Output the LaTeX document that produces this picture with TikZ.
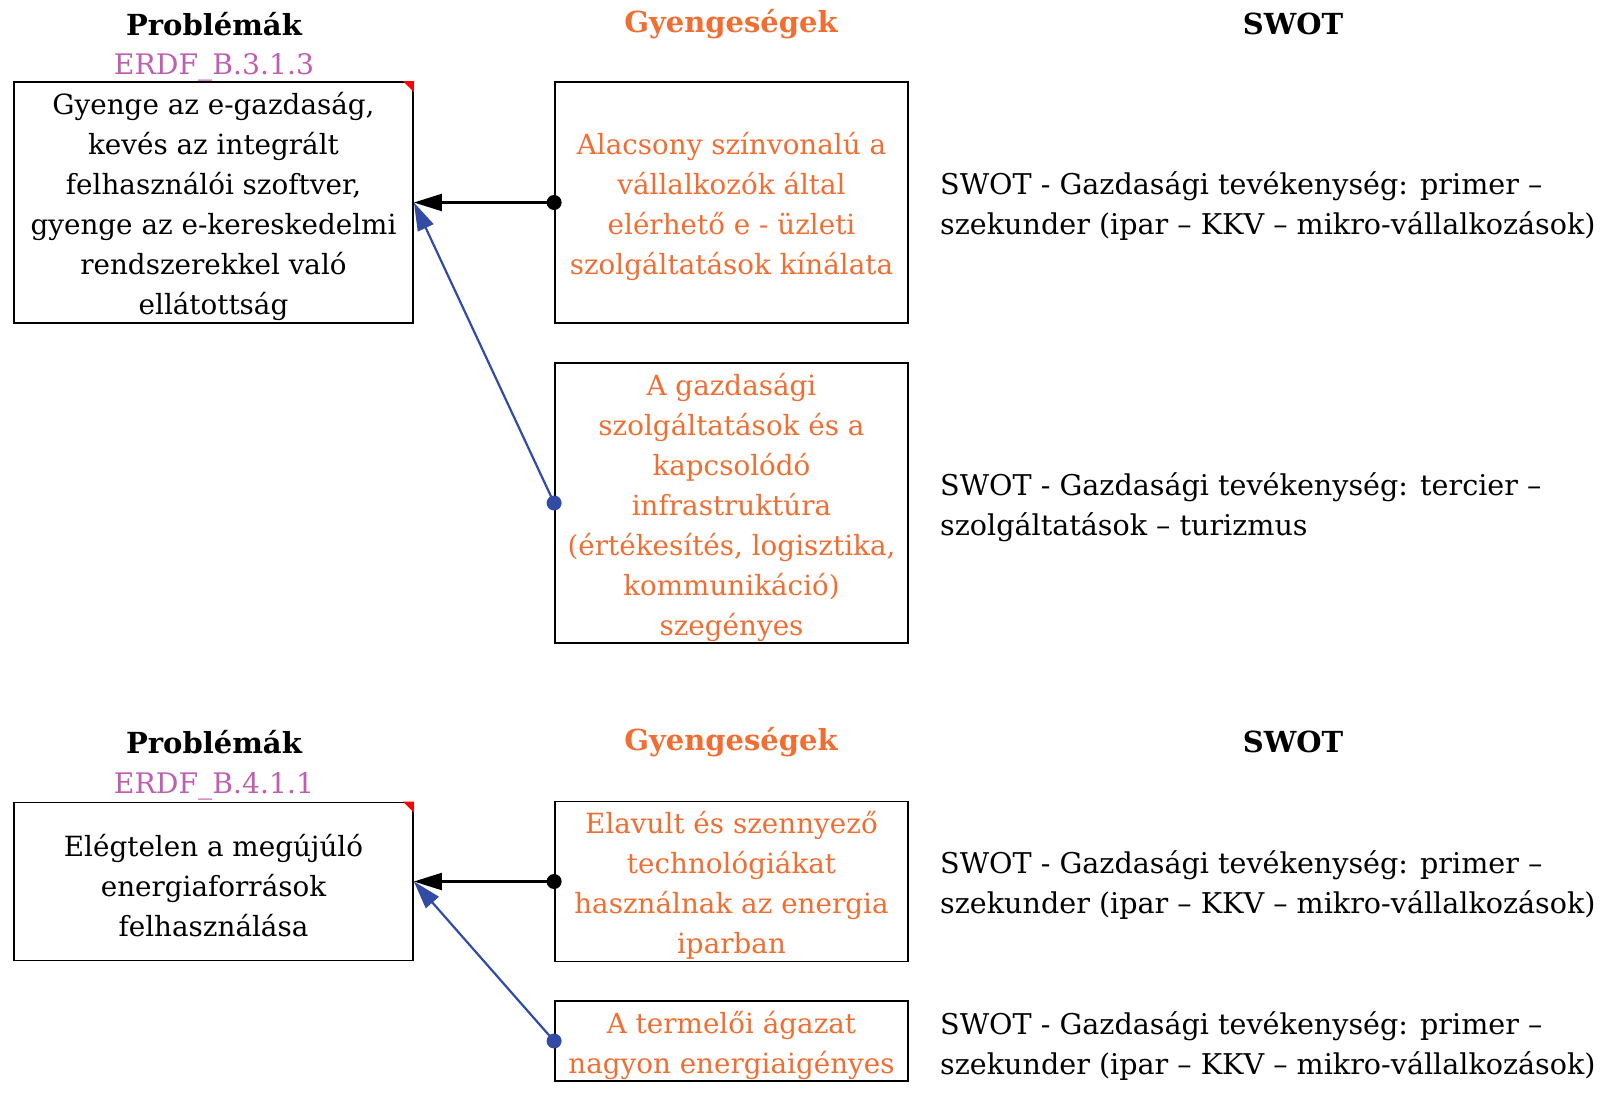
\documentclass[tikz,border=0pt]{standalone}
\usepackage{fontspec}
\setmainfont{DejaVu Serif}
\usetikzlibrary{arrows.meta}
\definecolor{orng}{RGB}{240,110,50}
\definecolor{pinkc}{RGB}{190,95,175}
\definecolor{blu}{RGB}{50,75,165}
\begin{document}
\begin{tikzpicture}[x=1pt,y=-1pt,
  box/.style={draw, line width=1.8pt, inner sep=0pt},
  txt/.style={font=\fontsize{27.8}{40}\selectfont, align=center, inner sep=0pt, yshift=-4pt},
  swot/.style={font=\fontsize{28.6}{40}\selectfont, align=left, inner sep=0pt, anchor=west},
  head/.style={font=\fontsize{29}{32}\selectfont\bfseries, inner sep=0pt},
  code/.style={font=\fontsize{28.3}{32}\selectfont, text=pinkc, inner sep=0pt},
  conn/.style={line width=2.2pt, -{Triangle[length=28pt,width=17pt]}},
  dot/.style={radius=7.5pt}]
\useasboundingbox (0,0) rectangle (1605,1117);

% ---- top section ----
\node[head] (h1) at (214,24) {Problémák};
\node[code] (c1) at (214,67) {ERDF\_B.3.1.3};
\node[head, text=orng] (h2) at (731,24) {Gyengeségek};
\node[head] (h3) at (1293,24) {SWOT};

\node[box, minimum width=399pt, minimum height=241pt] (p1) at (213.5,202.5) {};
\fill[red] (p1.north east) -- ++(-11,0) -- ++(11,11) -- cycle;
\node[txt] (p1t) at (p1.center) {Gyenge az e-gazdaság,\\kevés az integrált\\felhasználói szoftver,\\gyenge az e-kereskedelmi\\rendszerekkel való\\ellátottság};

\node[box, minimum width=353pt, minimum height=241pt] (w1) at (731.5,202.5) {};
\node[txt, text=orng] (w1t) at (w1.center) {Alacsony színvonalú a\\vállalkozók által\\elérhető e - üzleti\\szolgáltatások kínálata};

\node[box, minimum width=353pt, minimum height=280pt] (w2) at (731.5,503) {};
\node[txt, text=orng] (w2t) at (w2.center) {A gazdasági\\szolgáltatások és a\\kapcsolódó\\infrastruktúra\\(értékesítés, logisztika,\\kommunikáció)\\szegényes};

\node[swot] (s1) at (940,206) {SWOT - Gazdasági tevékenység: primer –\\szekunder (ipar – KKV – mikro-vállalkozások)};
\node[swot] (s2) at (940,507) {SWOT - Gazdasági tevékenység: tercier –\\szolgáltatások – turizmus};

\draw[conn] (w1.west) -- (p1.east);
\fill (w1.west) circle[dot];
\draw[conn, blu] (w2.west) -- (p1.east);
\fill[blu] (w2.west) circle[dot];

% ---- bottom section ----
\node[head] (h4) at (214,742) {Problémák};
\node[code] (c2) at (214,786) {ERDF\_B.4.1.1};
\node[head, text=orng] (h5) at (731,742) {Gyengeségek};
\node[head] (h6) at (1293,742) {SWOT};

\node[box, minimum width=399pt, minimum height=158pt] (p2) at (213.5,881.5) {};
\fill[red] (p2.north east) -- ++(-11,0) -- ++(11,11) -- cycle;
\node[txt] (p2t) at (p2.center) {Elégtelen a megújúló\\energiaforrások\\felhasználása};

\node[box, minimum width=353pt, minimum height=160pt] (w3) at (731.5,881.5) {};
\node[txt, text=orng] (w3t) at (w3.center) {Elavult és szennyező\\technológiákat\\használnak az energia\\iparban};

\node[box, minimum width=353pt, minimum height=80pt] (w4) at (731.5,1041) {};
\node[txt, text=orng] (w4t) at (w4.center) {A termelői ágazat\\nagyon energiaigényes};

\node[swot] (s3) at (940,885) {SWOT - Gazdasági tevékenység: primer –\\szekunder (ipar – KKV – mikro-vállalkozások)};
\node[swot] (s4) at (940,1046) {SWOT - Gazdasági tevékenység: primer –\\szekunder (ipar – KKV – mikro-vállalkozások)};

\draw[conn] (w3.west) -- (p2.east);
\fill (w3.west) circle[dot];
\draw[conn, blu] (w4.west) -- (p2.east);
\fill[blu] (w4.west) circle[dot];
\end{tikzpicture}
\end{document}
